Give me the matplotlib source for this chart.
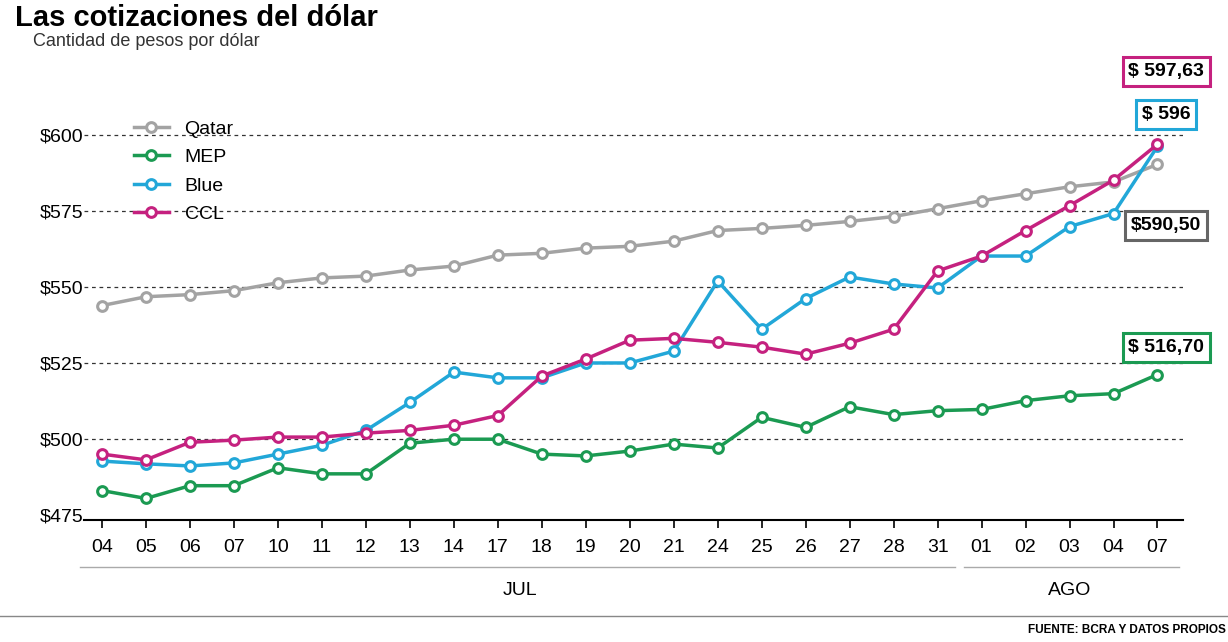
import matplotlib.pyplot as plt

days = ["04", "05", "06", "07", "10", "11", "12", "13", "14", "17", "18", "19", "20",
        "21", "24", "25", "26", "27", "28", "31", "01", "02", "03", "04", "07"]
qatar = [544.0, 546.9, 547.6, 548.9, 551.5, 553.1, 553.7, 555.7, 557.0, 560.6, 561.2, 562.9,
         563.5, 565.2, 568.7, 569.4, 570.4, 571.7, 573.3, 575.9, 578.5, 580.8, 583.1, 584.7, 590.5]
mep = [483.1, 480.5, 484.7, 484.7, 490.6, 488.6, 488.6, 498.7, 500.0, 500.0, 495.1, 494.5,
       496.1, 498.4, 497.1, 507.2, 503.9, 510.7, 508.1, 509.4, 509.8, 512.7, 514.3, 515.0, 521.3]
blue = [492.8, 491.9, 491.2, 492.2, 495.1, 498.0, 502.9, 512.1, 522.1, 520.2, 520.2, 525.1,
        525.1, 529.0, 552.1, 536.2, 546.3, 553.4, 551.1, 549.8, 560.3, 560.3, 570.0, 574.3, 596.4]
ccl = [495.1, 493.2, 499.0, 499.7, 500.7, 500.7, 502.0, 502.9, 504.6, 507.8, 520.8, 526.4,
       532.6, 533.2, 531.9, 530.3, 528.0, 531.6, 536.2, 555.4, 560.3, 568.7, 576.9, 585.3, 597.1]
yticks = [475, 500, 525, 550, 575, 600]

plt.rcParams["font.family"] = "Liberation Sans"

C_Q, C_M, C_B, C_C = "#a3a3a3", "#1b9a52", "#22a7d8", "#c5217f"

fig = plt.figure(figsize=(12.28, 6.42), dpi=100)
ax = fig.add_axes([0.068, 0.19, 0.895, 0.67])
x = list(range(len(days)))
mk = dict(marker="o", markersize=7, markerfacecolor="white", markeredgewidth=2.2, linewidth=2.5)
ax.plot(x, qatar, color=C_Q, label="Qatar", **mk)
ax.plot(x, mep, color=C_M, label="MEP", **mk)
ax.plot(x, blue, color=C_B, label="Blue", **mk)
ax.plot(x, ccl, color=C_C, label="CCL", **mk)

ax.set_xlim(-0.42, 24.57)
ax.set_ylim(473.4, 615)
ax.set_yticks(yticks)
ax.set_yticklabels([f"${v}" for v in yticks], fontsize=14)
ax.set_xticks(x)
ax.set_xticklabels(days, fontsize=14)
for v in yticks[1:]:
    ax.axhline(v, color="#333333", linestyle=(0, (3, 3)), linewidth=0.9, zorder=0)
for s in ["top", "right", "left"]:
    ax.spines[s].set_visible(False)
ax.spines["bottom"].set_linewidth(1.5)
ax.tick_params(axis="y", length=0, pad=0)
ax.tick_params(axis="x", length=6, width=1.2, pad=8)

ax.legend(loc="upper left", bbox_to_anchor=(0.03, 0.97), frameon=False, fontsize=14,
          handlelength=1.8, labelspacing=0.55)

# month brackets
trans = ax.get_xaxis_transform()
ax.plot([-0.5, 19.4], [-0.11, -0.11], transform=trans, color="#aaaaaa", lw=1, clip_on=False)
ax.plot([19.6, 24.5], [-0.11, -0.11], transform=trans, color="#aaaaaa", lw=1, clip_on=False)
ax.text(9.5, -0.165, "JUL", transform=trans, ha="center", va="center", fontsize=14)
ax.text(22, -0.165, "AGO", transform=trans, ha="center", va="center", fontsize=14)

# value boxes
boxes = [("$ 597,63", C_C, 621), ("$ 596", C_B, 607), ("$590,50", "#666666", 570.4),
         ("$ 516,70", C_M, 530.3)]
for txt, col, yv in boxes:
    ax.text(24.2, yv, txt, ha="center", va="center", fontsize=14, fontweight="bold", clip_on=False,
            bbox=dict(boxstyle="square,pad=0.3", facecolor="white", edgecolor=col, linewidth=2.2))

fig.text(0.012, 0.972, "Las cotizaciones del dólar", fontsize=21, fontweight="bold", va="center")
fig.text(0.027, 0.935, "Cantidad de pesos por dólar", fontsize=13, va="center", color="#333333")
fig.add_artist(plt.Line2D([0, 1], [0.04, 0.04], color="#888888", lw=1))
fig.text(0.998, 0.018, "FUENTE: BCRA Y DATOS PROPIOS", fontsize=8.5, fontweight="bold", ha="right", va="center")

fig.savefig("out.png", dpi=100)
